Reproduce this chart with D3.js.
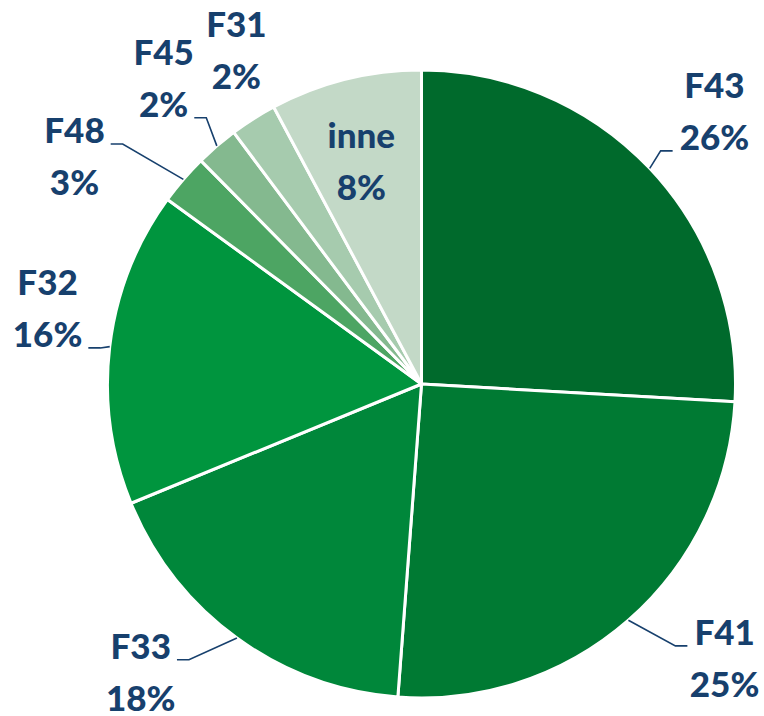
<!DOCTYPE html>
<html><head><meta charset="utf-8">
<script src="https://cdn.jsdelivr.net/npm/d3@7"></script>
<style>html,body{margin:0;padding:0;background:#fff;}svg{display:block;}</style>
</head><body>
<svg id="chart" width="764" height="716"></svg>
<script>
// ---- data ----
const categories = ["F43", "F41", "F33", "F32", "F48", "F45", "F31", "inne"];
const values = [25.9, 25.3, 17.6, 16.2, 2.6, 2.2, 2.4, 7.8];
const pctLabels = ["26%", "25%", "18%", "16%", "3%", "2%", "2%", "8%"];

// ---- styles / layout (kept separate from data) ----
const sliceColors = ["#006A2C", "#007A33", "#00873A", "#00953E", "#4DA563", "#84B98F", "#A6CBAE", "#C3D9C7"];
const textColor = "#17406D";
// label block centre as [angle in degrees clockwise from 12 o'clock, distance from centre]
const labelPolar = [[47.0, 400.5], [132.1, 408.5], [224.3, 402.0], [281.5, 381.6], [303.3, 415.2], [319.9, 400.3], [331.0, 381.8], [344.9, 230.9]];
// which label line the leader line attaches to (null = no leader)
const leaderLine = [1, 0, 0, 1, 0, 1, null, null];

const W = 764, H = 716, cx = 421.5, cy = 384, R = 314;
const fontSize = 35, lineGap = 52;

const svg = d3.select("#chart");
const g = svg.append("g").attr("transform", `translate(${cx},${cy})`);

const pie = d3.pie().sort(null).value(d => d).startAngle(0).endAngle(2 * Math.PI);
const arcs = pie(values);
const arc = d3.arc().innerRadius(0).outerRadius(R);

g.selectAll("path.slice").data(arcs).join("path")
  .attr("class", "slice")
  .attr("d", arc)
  .attr("fill", (d, i) => sliceColors[i])
  .attr("stroke", "#fff")
  .attr("stroke-width", 3)
  .attr("stroke-linejoin", "round");

const polar = (deg, r) => {
  const a = deg * Math.PI / 180;
  return [r * Math.sin(a), -r * Math.cos(a)];
};

const labels = g.selectAll("text.lbl").data(arcs).join("text")
  .attr("class", "lbl")
  .attr("text-anchor", "middle")
  .attr("font-family", "Lato, 'Open Sans', sans-serif")
  .attr("font-weight", 900)
  .attr("font-size", fontSize)
  .attr("fill", textColor);

labels.each(function (d, i) {
  const [x, y] = polar(labelPolar[i][0], labelPolar[i][1]);
  const t = d3.select(this);
  const b1 = y - 13, b2 = b1 + lineGap;
  const s1 = t.append("tspan").attr("x", x).attr("y", b1).text(categories[i]);
  const s2 = t.append("tspan").attr("x", x).attr("y", b2).text(pctLabels[i]);
  const li = leaderLine[i];
  if (li === null) return;
  const span = li === 0 ? s1 : s2;
  const len = span.node().getComputedTextLength();
  const baseY = (li === 0 ? b1 : b2) + 1;
  const right = x > 0;
  const endX = right ? x - len / 2 - 7 : x + len / 2 + 6;
  const elbowX = right ? endX - 12 : endX + 12;
  const mid = (d.startAngle + d.endAngle) / 2;
  const start = [R * Math.sin(mid), -R * Math.cos(mid)];
  g.append("polyline")
    .attr("points", [start, [elbowX, baseY], [endX, baseY]].map(p => p.join(",")).join(" "))
    .attr("fill", "none")
    .attr("stroke", textColor)
    .attr("stroke-width", 1.6);
});
</script>
</body></html>
